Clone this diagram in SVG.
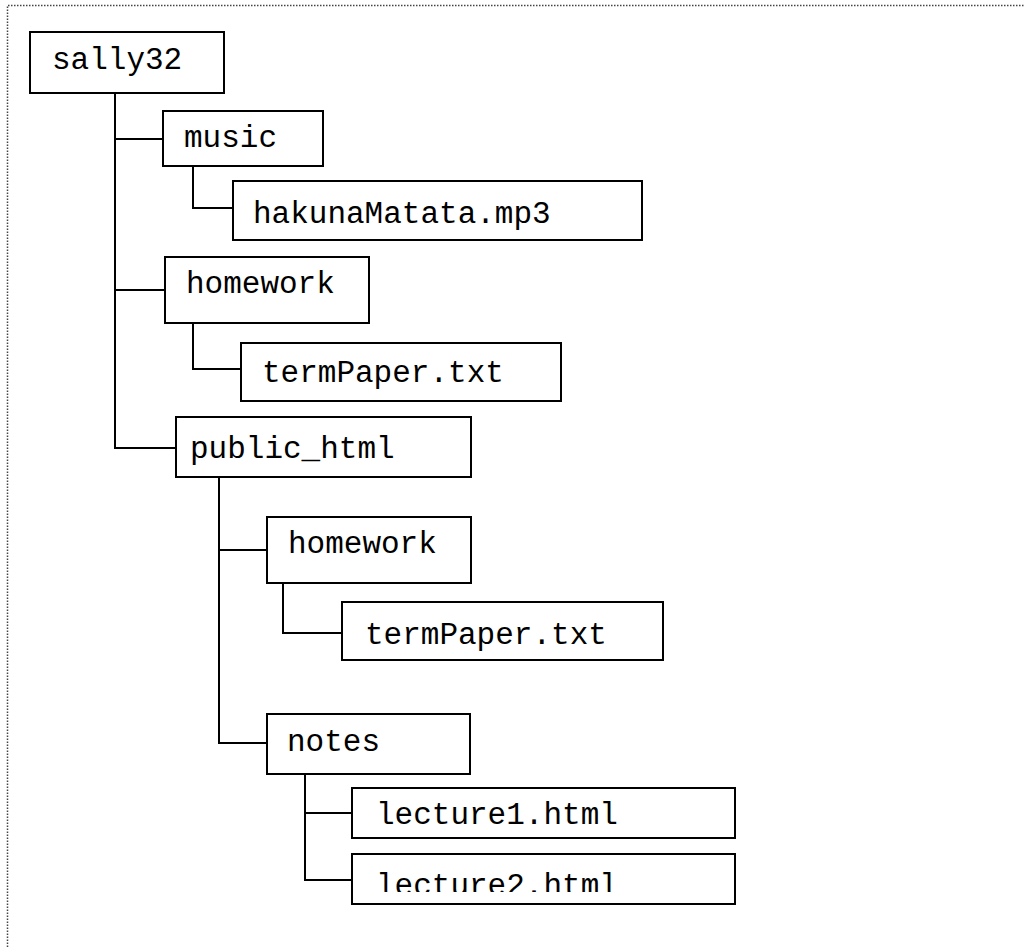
<svg xmlns="http://www.w3.org/2000/svg" width="1024" height="947" viewBox="0 0 1024 947">
<style>
.box{fill:#fff;stroke:#000;stroke-width:2}
.lbl{font-family:"Liberation Mono","Courier New",monospace;font-size:31px;fill:#000}
.con{fill:none;stroke:#000;stroke-width:2}
.frame{fill:none;stroke:#444;stroke-width:1.5;stroke-dasharray:1.5 1.5}
</style>
<defs><clipPath id="clipL2"><rect x="352" y="854" width="384" height="38"/></clipPath></defs>
<rect width="1024" height="947" fill="#fff"/>
<path class="frame" d="M7.5 947 V5.5 H1024"/>
<g id="connectors">
<path class="con" d="M115 93 V448 H176"/>
<path class="con" d="M115 139 H163"/>
<path class="con" d="M115 290 H165"/>
<path class="con" d="M193 166 V208 H233"/>
<path class="con" d="M193 323 V369 H241"/>
<path class="con" d="M219 477 V743 H267"/>
<path class="con" d="M219 550 H267"/>
<path class="con" d="M283 583 V633 H342"/>
<path class="con" d="M305 774 V880 H352"/>
<path class="con" d="M305 813 H352"/>
</g>
<g id="sally32"><rect class="box" x="30" y="32" width="194" height="61"/><text class="lbl" x="52" y="69">sally32</text></g>
<g id="music"><rect class="box" x="163" y="111" width="160" height="55"/><text class="lbl" x="184" y="147">music</text></g>
<g id="hakunaMatata"><rect class="box" x="233" y="181" width="409" height="59"/><text class="lbl" x="253" y="223">hakunaMatata.mp3</text></g>
<g id="homework"><rect class="box" x="165" y="257" width="204" height="66"/><text class="lbl" x="186" y="293">homework</text></g>
<g id="termPaper"><rect class="box" x="241" y="343" width="320" height="58"/><text class="lbl" x="262" y="382">termPaper.txt</text></g>
<g id="public_html"><rect class="box" x="176" y="417" width="295" height="60"/><text class="lbl" x="190" y="458">public_html</text></g>
<g id="homework2"><rect class="box" x="267" y="517" width="204" height="66"/><text class="lbl" x="288" y="553">homework</text></g>
<g id="termPaper2"><rect class="box" x="342" y="602" width="321" height="58"/><text class="lbl" x="365" y="644">termPaper.txt</text></g>
<g id="notes"><rect class="box" x="267" y="714" width="203" height="60"/><text class="lbl" x="287" y="751">notes</text></g>
<g id="lecture1"><rect class="box" x="352" y="788" width="383" height="50"/><text class="lbl" x="376" y="824">lecture1.html</text></g>
<g id="lecture2"><rect class="box" x="352" y="854" width="383" height="50"/><text class="lbl" x="376" y="895" clip-path="url(#clipL2)">lecture2.html</text></g>
</svg>
